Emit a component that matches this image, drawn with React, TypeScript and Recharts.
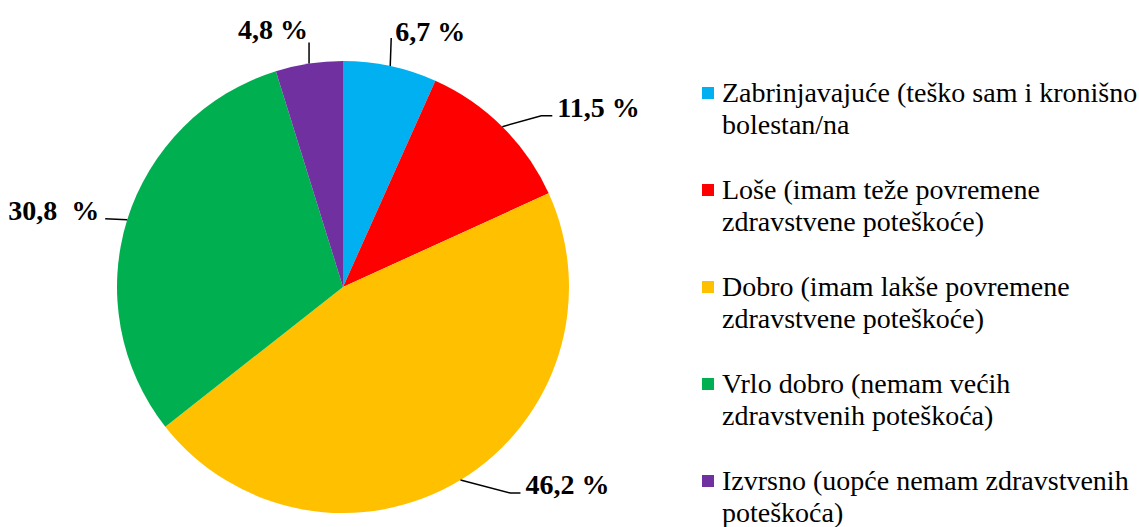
// Self-rated health — pie chart with leader-line labels and a wrapped legend on the right.

import { PieChart, Pie, Cell } from 'recharts'

const categories = [
  'Zabrinjavajuće (teško sam i kronišno\nbolestan/na',
  'Loše (imam teže povremene\nzdravstvene poteškoće)',
  'Dobro (imam lakše povremene\nzdravstvene poteškoće)',
  'Vrlo dobro (nemam većih\nzdravstvenih poteškoća)',
  'Izvrsno (uopće nemam zdravstvenih\npoteškoća)',
]
const shares = [6.7, 11.5, 46.2, 30.8, 4.8]
const shareLabels = ['6,7 %', '11,5 %', '46,2 %', '30,8  %', '4,8 %']

const COLORS = ['#00B0F0', '#FF0000', '#FFC000', '#00B050', '#7030A0']

// leader line: elbow offset from slice edge, horizontal tail, then text offset from the line end
const LEADERS = [
  { elbow: [1, -28], tail: 0, text: [4, -6], anchor: 'start' },
  { elbow: [39, -11], tail: 11, text: [5, -8], anchor: 'start' },
  { elbow: [50, 13], tail: 10, text: [5, -9], anchor: 'start' },
  { elbow: [-22, -1], tail: 0, text: [-6, -8.5], anchor: 'end' },
  { elbow: [0, -21], tail: 0, text: [-1, -13], anchor: 'end' },
]

const data = categories.map((name, i) => ({ name, value: shares[i] }))

const RAD = Math.PI / 180
const FONT = "'Liberation Serif', 'Times New Roman', serif"

function renderLabel(props: any) {
  const { cx, cy, midAngle, outerRadius, index } = props
  const ex = cx + Math.cos(-midAngle * RAD) * outerRadius
  const ey = cy + Math.sin(-midAngle * RAD) * outerRadius
  const l = LEADERS[index]
  const bx = ex + l.elbow[0]
  const by = ey + l.elbow[1]
  const dir = l.anchor === 'start' ? 1 : -1
  const tx = bx + dir * l.tail
  return (
    <g key={`lbl-${index}`}>
      <polyline
        points={`${ex},${ey} ${bx},${by} ${tx},${by}`}
        fill="none"
        stroke="#000"
        strokeWidth={1.5}
      />
      <text
        x={tx + l.text[0]}
        y={by + l.text[1]}
        textAnchor={l.anchor}
        dominantBaseline="central"
        fontFamily={FONT}
        fontWeight="bold"
        fontSize={28}
        fill="#000"
        style={{ whiteSpace: 'pre' }}
      >
        {shareLabels[index]}
      </text>
    </g>
  )
}

function ChartLegend() {
  return (
    <div
      style={{
        position: 'absolute',
        left: 702,
        top: 77,
        fontFamily: FONT,
        fontSize: 28,
        lineHeight: '32px',
        color: '#000',
      }}
    >
      {categories.map((name, i) => (
        <div key={name} style={{ display: 'flex', alignItems: 'flex-start', marginBottom: 33 }}>
          <span
            style={{
              width: 12,
              height: 12,
              marginTop: 10,
              marginRight: 8,
              flex: '0 0 auto',
              background: COLORS[i],
            }}
          />
          <span style={{ whiteSpace: 'pre-line' }}>{name}</span>
        </div>
      ))}
    </div>
  )
}

export default function App() {
  return (
    <div style={{ position: 'absolute', left: 0, top: 0, width: 1139, height: 527, background: '#fff', overflow: 'hidden' }}>
      <PieChart width={1139} height={527} margin={{ top: 0, right: 0, bottom: 0, left: 0 }}>
        <Pie
          data={data}
          dataKey="value"
          nameKey="name"
          cx={343}
          cy={287}
          outerRadius={226}
          startAngle={90}
          endAngle={-270}
          stroke="none"
          label={renderLabel}
          labelLine={false}
          isAnimationActive={false}
        >
          {data.map((d, i) => (
            <Cell key={d.name} fill={COLORS[i]} />
          ))}
        </Pie>
      </PieChart>
      <ChartLegend />
    </div>
  )
}
